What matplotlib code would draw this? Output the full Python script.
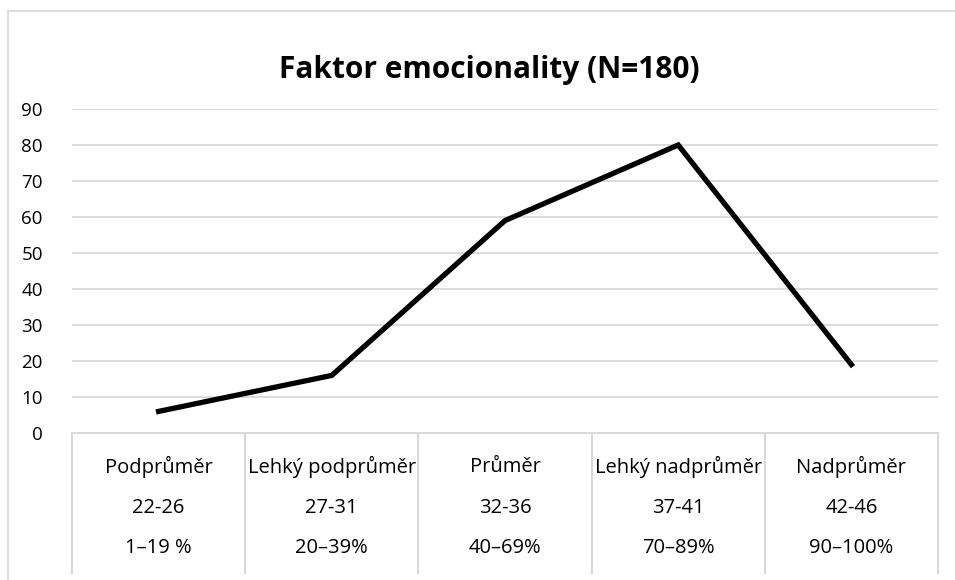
import matplotlib
matplotlib.use("Agg")
import matplotlib.pyplot as plt
from matplotlib.lines import Line2D

plt.rcParams['font.family'] = ['Open Sans', 'DejaVu Sans']

categories = ["Podprůměr", "Lehký podprůměr", "Průměr", "Lehký nadprůměr", "Nadprůměr"]
score_ranges = ["22-26", "27-31", "32-36", "37-41", "42-46"]
percentiles = ["1–19 %", "20–39%", "40–69%", "70–89%", "90–100%"]
values = [6, 16, 59, 80, 19]
yticks = list(range(0, 100, 10))

W, H = 955, 580
fig = plt.figure(figsize=(W / 100, H / 100), dpi=100)

left, right, bottom, top = 72, 938, 433, 109
ax = fig.add_axes([left / W, 1 - bottom / H, (right - left) / W, (bottom - top) / H])

x = list(range(len(categories)))
ax.plot(x, values, color='black', lw=3.8, solid_joinstyle='miter', zorder=3)
ax.set_xlim(-0.5, len(categories) - 0.5)
ax.set_ylim(0, 90)
ax.set_yticks(yticks)
ax.set_yticklabels([str(v) for v in yticks], fontsize=13.5)
ax.tick_params(axis='y', length=0, pad=21)
ax.set_xticks([])
for s in ax.spines.values():
    s.set_visible(False)
ax.grid(axis='y', color='#d9d9d9', lw=1.3)
ax.set_axisbelow(True)

# category table
tr = ax.get_xaxis_transform()
bot_frac = (bottom - 573) / (bottom - top)
line_col = '#d9d9d9'
ax.add_line(Line2D([-0.5, len(categories) - 0.5], [0, 0], transform=tr, color=line_col, lw=1.5, clip_on=False))
for b in range(len(categories) + 1):
    ax.add_line(Line2D([b - 0.5, b - 0.5], [0, bot_frac], transform=tr, color=line_col, lw=1.5, clip_on=False))

rows = [(categories, 467), (score_ranges, 508), (percentiles, 548)]
for labels, py in rows:
    yf = (bottom - py) / (bottom - top)
    for i, lab in enumerate(labels):
        ax.text(i, yf, lab, transform=tr, ha='center', va='center', fontsize=14.5, clip_on=False)

fig.text(489 / W, 1 - 70 / H, "Faktor emocionality (N=180)", ha='center', va='center',
         fontsize=21.5, fontweight='bold')

# chart frame
fig.add_artist(Line2D([8 / W, 8 / W], [0, 1 - 11 / H], transform=fig.transFigure, color='#d9d9d9', lw=1.3))
fig.add_artist(Line2D([8 / W, 1], [1 - 11 / H, 1 - 11 / H], transform=fig.transFigure, color='#d9d9d9', lw=1.3))

fig.savefig("out.png", dpi=100)
